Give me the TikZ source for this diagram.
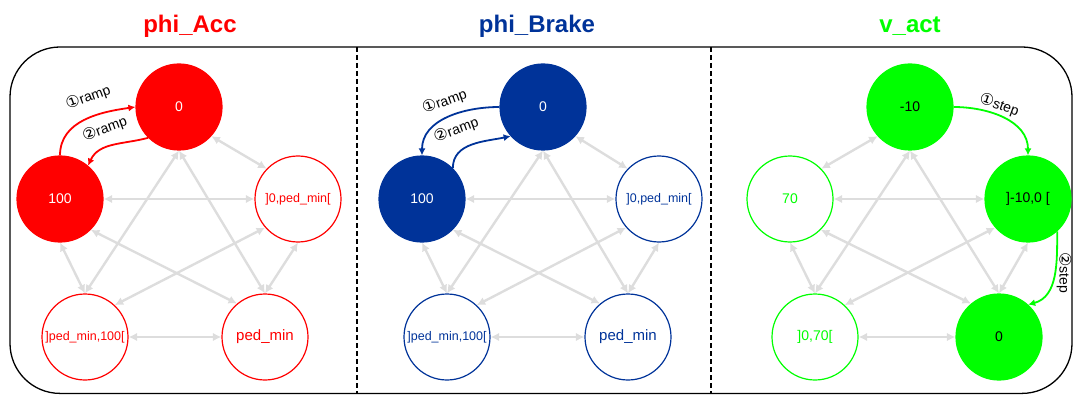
\documentclass[tikz,border=0pt]{standalone}
\usepackage{fontspec}
\setmainfont{Liberation Sans}
\newfontfamily\circfont{DejaVu Sans}
\usetikzlibrary{arrows.meta}
\definecolor{accred}{HTML}{FF0000}
\definecolor{brakeblue}{HTML}{003399}
\definecolor{vgreen}{HTML}{00FF00}
\definecolor{linkgray}{HTML}{DDDDDD}
\newcommand{\cnum}[1]{{\circfont\fontsize{16}{16}\selectfont #1}}
\begin{document}
\begin{tikzpicture}[x=1pt,y=1pt]
		\tikzset{state/.style = {shape=circle,minimum size=86pt,inner sep=0pt,line width=1.2pt,font=\fontsize{14}{16}\selectfont}}
		\tikzset{small/.style = {font=\fontsize{12.5}{14}\selectfont}}
		\tikzset{link/.style = {<->,> = {Latex[length=8.5pt,width=8.5pt]},color=linkgray,line width=2.4pt}}
		\tikzset{trans/.style = {->,> = {Latex[length=7pt,width=7pt]},line width=1.8pt}}
		\tikzset{tlabel/.style = {font=\fontsize{14}{16}\selectfont,inner sep=1pt,text=black}}
		\tikzset{title/.style = {font=\bfseries\fontsize{24}{28}\selectfont}}
		\useasboundingbox (0,0) rectangle (1075,394);
		% frame and dividers
		\draw[line width=1.3pt,rounded corners=50pt] (10,0.6) rectangle (1072,347);
		\draw[line width=1.8pt,dash pattern=on 5pt off 3pt] (357,347) -- (357,0);
		\draw[line width=1.8pt,dash pattern=on 5pt off 3pt] (711,347) -- (711,0);
		% titles
		\node[title,text=accred] (t1) at (190,368) {phi\_Acc};
		\node[title,text=brakeblue] (t2) at (537,368) {phi\_Brake};
		\node[title,text=vgreen] (t3) at (910,368) {v\_act};
		% phi_Acc
		\node[state,fill=accred,draw=accred,text=white] (a1) at (179,287) {0};
		\node[state,fill=accred,draw=accred,text=white] (b1) at (60,195) {100};
		\node[state,draw=accred,text=accred,small] (c1) at (298,195) {]0,ped\_min[};
		\node[state,draw=accred,text=accred,small] (d1) at (85,57) {]ped\_min,100[};
		\node[state,draw=accred,text=accred,font=\fontsize{15}{17}\selectfont] (e1) at (265,57) {ped\_min};
		% phi_Brake
		\node[state,fill=brakeblue,draw=brakeblue,text=white] (a2) at (543,287) {0};
		\node[state,fill=brakeblue,draw=brakeblue,text=white] (b2) at (422,195) {100};
		\node[state,draw=brakeblue,text=brakeblue,small] (c2) at (659,195) {]0,ped\_min[};
		\node[state,draw=brakeblue,text=brakeblue,small] (d2) at (447,57) {]ped\_min,100[};
		\node[state,draw=brakeblue,text=brakeblue,font=\fontsize{15}{17}\selectfont] (e2) at (628,57) {ped\_min};
		% v_act
		\node[state,fill=vgreen,draw=vgreen] (a3) at (910,287) {-10};
		\node[state,draw=vgreen,text=vgreen] (b3) at (790,195) {70};
		\node[state,fill=vgreen,draw=vgreen] (c3) at (1028,195) {]-10,0 [};
		\node[state,draw=vgreen,text=vgreen] (d3) at (815,57) {]0,70[};
		\node[state,fill=vgreen,draw=vgreen] (e3) at (999,57) {0};
		% gray links
		\foreach \p in {1,2,3}{
			\path[link] (a\p.south) edge (d\p.north)
				(a\p.south) edge (e\p.north)
				(b\p) edge (c\p)
				(b\p.south) edge (d\p.north)
				(b\p.-45) edge (e\p.130)
				(c\p.221) edge (d\p.47)
				(c\p.south) edge (e\p.north)
				(d\p) edge (e\p);
		}
		\path[link] (a1.-42) edge (c1.136) (a2.-42) edge (c2.136) (a3.222) edge (b3.44);
		% transitions
		\path[trans,color=accred] (b1.north) edge[out=90,in=188] node[tlabel,pos=.5,rotate=20,above=11pt,xshift=11pt] {\cnum{①}ramp} (a1.west);
		\path[trans,color=accred] (a1.225) edge[out=195,in=65] node[tlabel,pos=.5,rotate=20,above=9pt,xshift=-2pt] {\cnum{②}ramp} (b1.50);
		\path[trans,color=brakeblue] (a2.west) edge[out=180,in=90] node[tlabel,pos=.5,rotate=20,above=7pt,xshift=3pt] {\cnum{①}ramp} (b2.north);
		\path[trans,color=brakeblue] (b2.45) edge[out=90,in=192] node[tlabel,pos=.35,rotate=20,above=11pt] {\cnum{②}ramp} (a2.222);
		\path[trans,color=vgreen] (a3.east) edge[out=0,in=90] node[tlabel,pos=.45,rotate=-20,above=1pt,xshift=-4pt] {\cnum{①}step} (c3.north);
		\path[trans,color=vgreen] (c3.-48) edge[out=-90,in=15] node[tlabel,pos=.45,rotate=-90,anchor=south] {\cnum{②}step} (e3.48);
	\end{tikzpicture}
\end{document}
